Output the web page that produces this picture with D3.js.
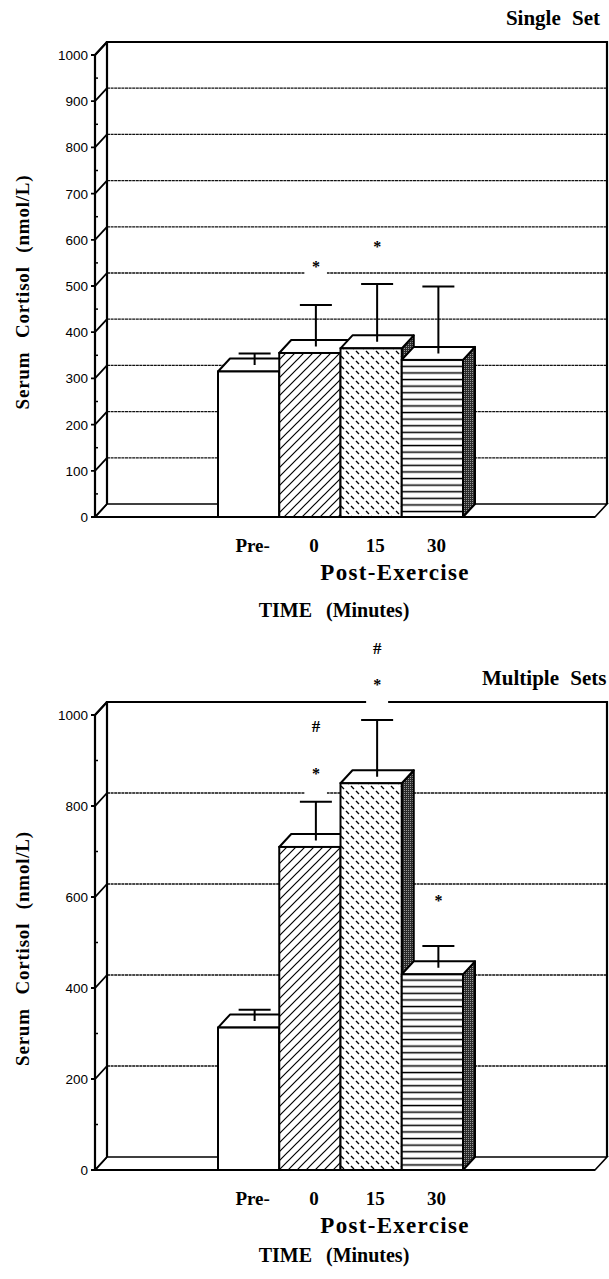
<!DOCTYPE html>
<html>
<head>
<meta charset="utf-8">
<script src="https://cdn.jsdelivr.net/npm/d3@7"></script>
<style>
  body { margin: 0; background: #fff; }
</style>
</head>
<body>
<div id="chart"></div>
<script>
// time points
const categories = ["Pre-", "0", "15", "30"];

// serum cortisol (nmol/L), mean and error
const singleMeans = [315, 355, 365, 340];
const singleErrors = [25, 90, 125, 145];
const multipleMeans = [313, 710, 850, 430];
const multipleErrors = [25, 85, 125, 48];

// significance marks: bar index, symbol, level (nmol/L) where it sits
const singleMarks = [[1, "*", 536], [2, "*", 579]];
const multipleMarks = [[1, "*", 865], [1, "#", 961], [2, "*", 1060], [2, "#", 1132], [3, "*", 585]];

const singleTicks = [0, 100, 200, 300, 400, 500, 600, 700, 800, 900, 1000];
const multipleTicks = [0, 200, 400, 600, 800, 1000];

const serif = "'Liberation Serif', 'Times New Roman', serif";
const sans = "'Liberation Sans', Arial, sans-serif";

const svg = d3.select("#chart").append("svg")
    .attr("width", 609)
    .attr("height", 1279);

// fill patterns for the bar faces
const defs = svg.append("defs");

const hatch = defs.append("pattern").attr("id", "hatch")
    .attr("patternUnits", "userSpaceOnUse").attr("width", 9).attr("height", 9);
hatch.append("rect").attr("width", 9).attr("height", 9).attr("fill", "#fff");
hatch.append("path").attr("d", "M-1,10L10,-1M-1,1L1,-1M8,10L10,8")
    .attr("stroke", "#000").attr("stroke-width", 1.2);

const dashes = defs.append("pattern").attr("id", "dashes")
    .attr("patternUnits", "userSpaceOnUse").attr("width", 10).attr("height", 10);
dashes.append("rect").attr("width", 10).attr("height", 10).attr("fill", "#fff");
dashes.append("path").attr("d", "M1,6L4,9M6,1L9,4")
    .attr("stroke", "#000").attr("stroke-width", 1.4);

const stripes = defs.append("pattern").attr("id", "stripes")
    .attr("patternUnits", "userSpaceOnUse").attr("width", 6).attr("height", 6.6);
stripes.append("rect").attr("width", 6).attr("height", 6.6).attr("fill", "#fff");
stripes.append("rect").attr("y", 2.6).attr("width", 6).attr("height", 1.5).attr("fill", "#000");

const stipple = defs.append("pattern").attr("id", "stipple")
    .attr("patternUnits", "userSpaceOnUse").attr("width", 2).attr("height", 2);
stipple.append("rect").attr("width", 2).attr("height", 2).attr("fill", "#2a2a2a");
stipple.append("rect").attr("width", 1).attr("height", 1).attr("fill", "#999");

const frontFills = ["#fff", "url(#hatch)", "url(#dashes)", "url(#stripes)"];

// 3d depth offset of the back wall
const dx = 12, dy = 13;
const frontLeft = 95, backRight = 607;

function drawPanel(cfg) {
    const g = svg.append("g");
    const backLeft = frontLeft + dx;
    const frontRight = backRight - dx;

    const y = d3.scaleLinear().domain([0, 1000]).range([cfg.floorY, cfg.floorY - cfg.height]);
    const x = d3.scaleBand().domain(categories).range([218, 463]);
    const bw = x.bandwidth();
    const y0 = y(0), yMax = y(1000);

    // gridlines on the back wall
    g.selectAll("line.grid")
        .data(cfg.ticks.filter(t => t > 0 && t < 1000))
        .join("line")
        .attr("x1", backLeft).attr("x2", backRight)
        .attr("y1", d => y(d) - dy).attr("y2", d => y(d) - dy)
        .attr("stroke", "#111").attr("stroke-width", 1.3)
        .attr("stroke-dasharray", "3,0.6");

    // floor
    g.append("path")
        .attr("d", `M${frontLeft},${y0}L${backLeft},${y0 - dy}L${backRight},${y0 - dy}L${frontRight},${y0}Z`)
        .attr("fill", "#fff").attr("stroke", "#000").attr("stroke-width", 1.6);
    g.append("line")
        .attr("x1", frontLeft).attr("x2", frontRight).attr("y1", y0).attr("y2", y0)
        .attr("stroke", "#000").attr("stroke-width", 2.2);

    // back wall outline and left wall
    g.append("path")
        .attr("d", `M${backLeft},${y0 - dy}V${yMax - dy}H${backRight}V${y0 - dy}`)
        .attr("fill", "none").attr("stroke", "#000").attr("stroke-width", 2.2);
    g.append("path")
        .attr("d", `M${frontLeft},${y0}V${yMax}L${backLeft},${yMax - dy}`)
        .attr("fill", "none").attr("stroke", "#000").attr("stroke-width", 2.2);

    // major ticks: outer tick plus diagonal to the back wall
    g.selectAll("path.tick")
        .data(cfg.ticks)
        .join("path")
        .attr("d", d => `M${frontLeft - 4},${y(d)}H${frontLeft}L${backLeft},${y(d) - dy}`)
        .attr("fill", "none").attr("stroke", "#000").attr("stroke-width", 1.8);

    // minor ticks halfway between
    const step = cfg.ticks[1] - cfg.ticks[0];
    g.selectAll("line.minor")
        .data(cfg.ticks.slice(1).map(t => t - step / 2))
        .join("line")
        .attr("x1", frontLeft).attr("x2", frontLeft + 3)
        .attr("y1", d => y(d)).attr("y2", d => y(d))
        .attr("stroke", "#000").attr("stroke-width", 1.5);

    g.selectAll("text.ylab")
        .data(cfg.ticks)
        .join("text")
        .attr("x", frontLeft - 7)
        .attr("y", d => y(d) + 5)
        .attr("text-anchor", "end")
        .attr("font-family", sans)
        .attr("font-size", 13.5)
        .text(d => d);

    // white boxes that break the gridlines behind the marks
    const markX = i => x(categories[i]) + bw / 2 + dx / 2;
    const markY = v => y(v) - dy / 2;
    g.selectAll("rect.markbg")
        .data(cfg.marks)
        .join("rect")
        .attr("x", d => markX(d[0]) - 11)
        .attr("y", d => markY(d[2]) - 8)
        .attr("width", 22)
        .attr("height", 36)
        .attr("fill", "#fff");

    // bars, left to right so each one covers the side of the previous
    categories.forEach((c, i) => {
        const x0 = x(c), x1 = x0 + bw;
        const yt = y(cfg.means[i]);
        const bar = g.append("g");

        bar.append("path")
            .attr("d", `M${x1},${yt}L${x1 + dx},${yt - dy}V${y0 - dy}L${x1},${y0}Z`)
            .attr("fill", "url(#stipple)").attr("stroke", "#000").attr("stroke-width", 2)
            .attr("stroke-linejoin", "round");
        bar.append("path")
            .attr("d", `M${x0},${yt}L${x0 + dx},${yt - dy}H${x1 + dx}L${x1},${yt}Z`)
            .attr("fill", "#fff").attr("stroke", "#000").attr("stroke-width", 2)
            .attr("stroke-linejoin", "round");
        bar.append("rect")
            .attr("x", x0).attr("y", yt)
            .attr("width", bw).attr("height", y0 - yt)
            .attr("fill", frontFills[i]).attr("stroke", "#000").attr("stroke-width", 2);

        // error bar rising from the centre of the top face
        const cx = x0 + bw / 2 + dx / 2;
        const ye = y(cfg.means[i] + cfg.errors[i]) - dy / 2;
        bar.append("path")
            .attr("d", `M${cx},${yt - dy / 2}V${ye}M${cx - 16},${ye}H${cx + 16}`)
            .attr("fill", "none").attr("stroke", "#000").attr("stroke-width", 2);
    });

    g.selectAll("text.mark")
        .data(cfg.marks)
        .join("text")
        .attr("x", d => markX(d[0]))
        .attr("y", d => markY(d[2]) + (d[1] === "*" ? 9 : 6))
        .attr("text-anchor", "middle")
        .attr("font-family", serif)
        .attr("font-weight", "bold")
        .attr("font-size", d => d[1] === "*" ? 16 : 17)
        .text(d => d[1]);

    // x labels
    g.selectAll("text.xlab")
        .data(categories)
        .join("text")
        .attr("x", d => x(d) + bw / 2 + 4)
        .attr("y", y0 + 35)
        .attr("text-anchor", "middle")
        .attr("font-family", serif)
        .attr("font-weight", "bold")
        .attr("font-size", 19)
        .text(d => d);

    g.append("text")
        .attr("x", 395).attr("y", y0 + 63)
        .attr("text-anchor", "middle")
        .attr("font-family", serif).attr("font-weight", "bold")
        .attr("font-size", 23).attr("letter-spacing", 1.3)
        .text("Post-Exercise");

    g.append("text")
        .attr("x", 334).attr("y", y0 + cfg.timeOffset)
        .attr("text-anchor", "middle")
        .attr("font-family", serif).attr("font-weight", "bold")
        .attr("font-size", 20).attr("word-spacing", 9)
        .text("TIME (Minutes)");

    g.append("text")
        .attr("transform", `translate(29,${y0 - cfg.height / 2 + 6}) rotate(-90)`)
        .attr("text-anchor", "middle")
        .attr("font-family", serif).attr("font-weight", "bold")
        .attr("font-size", 19).attr("letter-spacing", 0.8).attr("word-spacing", 8)
        .text("Serum Cortisol (nmol/L)");

    g.append("text")
        .attr("x", cfg.titleX).attr("y", yMax - 30)
        .attr("text-anchor", cfg.titleAnchor)
        .attr("font-family", serif).attr("font-weight", "bold")
        .attr("font-size", 21).attr("word-spacing", 6)
        .text(cfg.title);
}

drawPanel({
    floorY: 517, height: 462, timeOffset: 100,
    means: singleMeans, errors: singleErrors, marks: singleMarks,
    ticks: singleTicks,
    title: "Single Set", titleX: 600, titleAnchor: "end"
});

drawPanel({
    floorY: 1170, height: 455, timeOffset: 92,
    means: multipleMeans, errors: multipleErrors, marks: multipleMarks,
    ticks: multipleTicks,
    title: "Multiple Sets", titleX: 482, titleAnchor: "start"
});
</script>
</body>
</html>
